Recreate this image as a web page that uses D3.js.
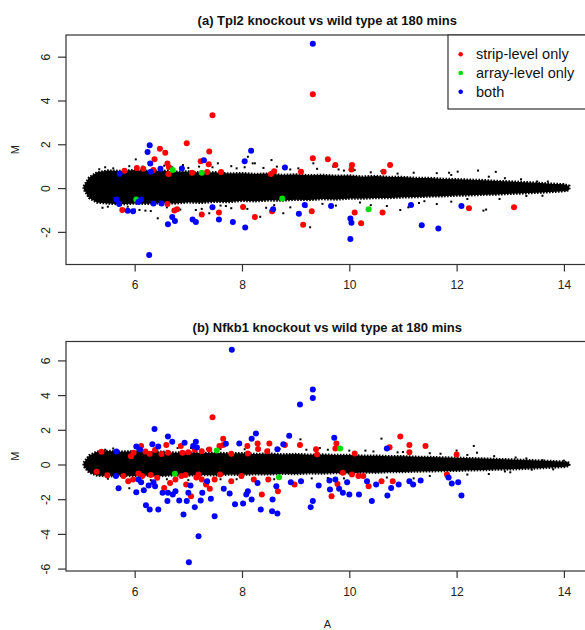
<!DOCTYPE html>
<html>
<head>
<meta charset="utf-8">
<script src="https://cdn.jsdelivr.net/npm/d3@7/dist/d3.min.js"></script>
<style>
  body { margin: 0; background: #fff; }
  svg { display: block; font-family: "Liberation Sans", Arial, sans-serif; }
</style>
</head>
<body>
<div id="chartContainer"></div>
<script>
// ---- data (A = average log intensity, M = log ratio) ----

// outline of the dense black cloud of unchanged probes, same A grid for both panels
var cloudA = [5.05, 5.15, 5.3, 5.5, 5.75, 6.0, 6.25, 6.5, 6.75, 7.0, 7.25, 7.5, 7.75, 8.0, 8.25, 8.5, 8.75, 9.0, 9.25, 9.5,
              9.75, 10.0, 10.25, 10.5, 10.75, 11.0, 11.25, 11.5, 11.75, 12.0, 12.25, 12.5, 12.75, 13.0, 13.25, 13.5, 13.75, 14.0, 14.1]
var tplCloudUp = [0.08, 0.48, 0.72, 0.8, 0.78, 0.82, 0.78, 0.8, 0.74, 0.76, 0.7, 0.72, 0.66, 0.68, 0.64, 0.66, 0.6, 0.62, 0.58, 0.6,
                  0.56, 0.57, 0.52, 0.55, 0.5, 0.5, 0.46, 0.46, 0.42, 0.4, 0.38, 0.36, 0.32, 0.3, 0.27, 0.24, 0.2, 0.17, 0.1]
var tplCloudLo = [-0.05, -0.45, -0.66, -0.7, -0.74, -0.7, -0.72, -0.68, -0.7, -0.65, -0.67, -0.62, -0.64, -0.58, -0.6, -0.56, -0.57, -0.53, -0.54, -0.5,
                  -0.52, -0.48, -0.48, -0.45, -0.45, -0.42, -0.41, -0.38, -0.37, -0.34, -0.33, -0.3, -0.29, -0.26, -0.24, -0.21, -0.18, -0.14, -0.08]
var nfkCloudUp = [0.1, 0.52, 0.74, 0.78, 0.74, 0.76, 0.7, 0.74, 0.68, 0.7, 0.66, 0.68, 0.64, 0.65, 0.6, 0.63, 0.58, 0.6, 0.56, 0.57,
                  0.54, 0.54, 0.5, 0.51, 0.47, 0.47, 0.44, 0.43, 0.4, 0.39, 0.36, 0.34, 0.31, 0.29, 0.26, 0.23, 0.2, 0.16, 0.1]
var nfkCloudLo = [-0.1, -0.46, -0.63, -0.68, -0.64, -0.67, -0.63, -0.66, -0.62, -0.63, -0.6, -0.62, -0.58, -0.59, -0.56, -0.57, -0.53, -0.55, -0.51, -0.52,
                  -0.49, -0.5, -0.46, -0.47, -0.43, -0.43, -0.4, -0.39, -0.37, -0.36, -0.33, -0.32, -0.29, -0.28, -0.25, -0.22, -0.18, -0.14, -0.08]

// loose black probes outside the cloud
var tplStray = [[6.02,1.31],[6.26,1.16],[5.34,0.86],[6.09,-1.0],[6.43,-1.38],[6.2,-1.03],[7.14,-1.0],[7.55,1.13],[8.11,1.43],[8.2,1.13],
                [5.87,-0.85],[7.7,-0.82],[7.39,-1.15],[8.24,1.13],[8.55,1.28],[9.33,1.13],[9.27,-1.79],[8.34,-1.31],[8.77,-1.15],[10.95,-1.0],
                [11.1,-0.88],[11.63,0.68],[9.7,0.98],[11.86,0.7],[12.4,0.8],[12.73,0.74],[12.5,-1.03],[11.63,-0.73],[12.02,0.75],[13.87,0.14],
                [5.6,0.9],[6.7,0.95],[7.0,0.92],[7.9,0.9],[8.9,0.85],[9.9,0.8],[10.4,0.72],[10.9,0.66],[5.5,-0.85],[6.6,-0.88],
                [7.6,-0.8],[8.6,-0.78],[9.5,-0.72],[10.2,-0.66],[11.4,-0.6],[12.2,-0.5],[13.3,-0.36],[13.5,0.3],[14.05,-0.1],[12.9,0.45],
                [5.45,0.95],[5.9,1.0],[6.15,0.98],[6.55,1.02],[6.9,1.05],[7.2,0.98],[7.45,0.95],[7.8,1.0],[8.05,0.95],[8.4,0.92],
                [8.65,0.98],[9.05,0.9],[9.4,0.88],[9.8,0.85],[10.1,0.82],[10.6,0.78],[11.2,0.7],[11.9,0.6],[12.6,0.52],[13.2,0.4],
                [5.4,-0.9],[5.75,-0.95],[6.0,-0.98],[6.3,-1.05],[6.85,-0.98],[7.25,-0.95],[7.8,-0.92],[8.1,-0.95],[8.45,-0.9],[8.9,-0.88],
                [9.2,-0.85],[9.75,-0.8],[10.4,-0.78],[10.7,-0.82],[11.3,-0.68],[11.9,-0.62],[12.8,-0.5],[13.6,-0.35],[12.55,-0.98],[13.7,0.3]]
var tplStrip = [[9.32,4.29],[7.45,3.32],[6.97,2.05],[6.47,1.8],[6.57,1.61],[7.39,1.67],[6.37,1.32],[6.61,1.12],[6.64,0.95],[7.23,1.23],
                [7.38,1.09],[6.04,0.92],[6.16,0.88],[5.81,0.79],[6.35,0.82],[6.63,0.64],[7.07,0.7],[7.35,0.73],[7.61,0.73],[8.54,0.64],
                [8.6,0.77],[9.1,0.74],[9.32,1.36],[9.6,1.32],[9.74,1.05],[10.05,1.05],[10.04,0.85],[10.76,1.05],[10.64,0.74],[6.61,-0.73],
                [5.77,-1.0],[6.74,-1.02],[6.79,-0.97],[7.25,-1.21],[7.57,-1.12],[8.02,-0.86],[8.24,-1.32],[8.56,-1.06],[9.14,-1.67],[9.3,-1.06],
                [10.1,-1.11],[10.22,-1.61],[10.62,-1.12],[12.23,-0.92],[13.07,-0.88]]
var tplArray = [[6.71,0.83],[7.25,0.7],[6.03,-0.52],[8.75,-0.48],[10.36,-0.97]]
var tplBoth = [[9.32,6.59],[6.28,1.95],[6.24,1.65],[6.29,1.12],[6.3,0.74],[5.72,0.65],[6.48,0.88],[6.88,0.89],[7.29,1.27],[8.17,1.71],
               [8.05,1.23],[8.8,0.94],[5.66,-0.52],[5.71,-0.73],[5.87,-1.03],[5.97,-1.06],[6.07,-0.64],[6.12,-0.52],[6.35,-0.7],[6.5,-0.7],
               [6.62,-1.65],[6.7,-1.32],[6.75,-1.5],[7.08,-1.44],[7.14,-1.55],[7.45,-0.88],[7.57,-1.44],[7.83,-1.55],[8.06,-1.8],[8.58,-0.97],
               [9.06,-1.17],[9.17,-0.77],[9.66,-0.82],[10.02,-1.39],[10.04,-1.58],[10.02,-2.33],[11.15,-0.77],[11.35,-1.7],[11.66,-1.85],[12.09,-0.82],
               [6.27,-3.06]]

var nfkStray = [[10.6,1.49],[9.09,1.45],[8.28,1.2],[9.45,0.95],[12.32,1.07],[12.38,0.68],[12.0,0.8],[5.9,-1.37],[7.3,-1.1],[8.9,-0.95],
                [9.6,0.85],[10.3,0.8],[10.9,0.7],[11.5,0.65],[11.2,-0.8],[11.8,-0.7],[12.6,-0.55],[13.1,0.4],[13.6,0.25],[14.05,0.1],
                [6.8,0.95],[7.6,0.9],[8.5,0.85],[9.9,-0.8],[10.7,-0.75],[12.9,-0.4],[13.4,-0.3],[5.45,0.85],[6.3,-0.9],[7.9,-0.85],
                [5.6,0.92],[6.05,0.9],[6.45,0.95],[7.05,0.95],[7.35,0.9],[8.05,0.88],[8.7,0.9],[9.2,0.85],[10.0,0.8],[10.45,0.75],
                [11.0,0.72],[11.7,0.62],[12.2,0.55],[12.7,0.48],[13.3,0.35],[5.5,-0.82],[5.95,-0.88],[6.6,-0.85],[7.0,-0.9],[7.6,-0.85],
                [8.2,-0.82],[8.6,-0.85],[9.3,-0.8],[9.6,-0.78],[10.2,-0.72],[11.5,-0.66],[12.2,-0.58],[13.0,-0.45],[13.8,-0.28],[14.0,0.22]]
var nfkStrip = [[7.45,2.73],[7.65,1.48],[10.95,1.62],[11.42,1.06],[11.12,1.12],[11.12,0.71],[10.75,1.0],[12.0,0.58],[10.1,0.63],[9.76,1.21],
                [9.74,0.92],[9.38,0.88],[9.4,0.58],[9.08,1.12],[8.8,1.12],[8.51,1.21],[8.47,0.77],[8.29,1.21],[8.1,1.06],[8.11,0.63],
                [7.65,1.12],[7.58,1.06],[7.39,0.87],[7.25,0.77],[6.86,1.06],[6.89,0.67],[6.62,0.67],[6.59,1.12],[6.38,0.83],[6.28,0.62],
                [6.12,1.06],[5.98,0.67],[5.93,0.48],[5.38,0.73],[6.2,0.75],[6.5,0.6],[7.0,0.7],[7.12,0.85],[7.8,0.62],[8.3,0.9],
                [5.29,-0.42],[5.49,-0.62],[5.79,-0.67],[5.88,-0.96],[5.97,-0.87],[6.07,-0.52],[6.14,-0.67],[6.42,-0.77],[6.55,-1.35],[6.66,-1.06],
                [6.76,-0.87],[6.87,-0.67],[6.96,-1.15],[7.05,-1.83],[7.19,-0.58],[7.25,-0.87],[7.33,-1.15],[7.4,-1.4],[7.49,-0.87],[7.59,-0.58],
                [7.8,-0.96],[7.99,-0.67],[8.22,-0.87],[8.37,-1.73],[8.49,-0.87],[8.67,-1.54],[8.98,-1.15],[9.67,-1.83],[9.78,-1.12],[9.88,-0.48],
                [10.05,-0.58],[10.17,-0.67],[10.26,-0.67],[10.36,-1.25],[10.6,-0.96],[10.81,-0.96],[11.82,-0.58],[6.3,-0.6],[6.95,-0.6],[7.15,-0.75]]
var nfkArray = [[7.53,0.81],[9.83,0.92],[6.75,-0.54],[8.69,-0.73]]
var nfkBoth = [[7.81,6.62],[9.32,4.33],[9.32,3.83],[9.08,3.46],[6.37,2.04],[6.62,1.62],[6.7,1.31],[6.33,1.17],[6.44,1.04],[6.03,1.04],
               [6.1,0.87],[5.66,0.75],[6.93,1.25],[7.14,1.31],[7.09,1.06],[7.16,0.98],[7.7,1.19],[7.95,1.21],[8.26,1.79],[8.18,1.48],
               [8.88,1.65],[8.77,1.17],[8.66,0.88],[9.72,1.54],[10.7,0.92],[11.85,-0.75],
               [5.65,-0.67],[5.7,-1.37],[6.03,-1.6],[6.07,-0.87],[6.12,-1.02],[6.17,-1.48],[6.21,-2.35],[6.28,-2.6],[6.44,-2.6],[6.26,-1.21],
               [6.35,-1.02],[6.38,-1.25],[6.52,-1.63],[6.61,-2.1],[6.62,-1.63],[6.71,-1.73],[6.76,-1.54],[6.83,-2.08],[6.91,-2.88],[6.97,-2.1],
               [7.0,-1.63],[7.04,-1.21],[7.12,-2.46],[7.19,-4.13],[7.01,-5.63],[7.23,-2.08],[7.26,-1.63],[7.35,-0.96],[7.42,-1.98],[7.49,-2.98],
               [7.66,-1.4],[7.77,-1.67],[7.87,-2.29],[8.02,-2.25],[8.08,-1.73],[8.11,-1.54],[8.18,-2.02],[8.29,-1.06],[8.35,-2.6],[8.56,-2.69],
               [8.66,-2.83],[8.57,-2.02],[8.64,-1.25],[8.91,-1.02],[9.1,-0.96],[9.28,-2.46],[9.32,-2.1],[9.43,-1.21],[9.63,-0.92],[9.64,-1.44],
               [9.74,-0.87],[9.81,-1.4],[9.88,-1.63],[9.96,-1.02],[10.0,-1.73],[10.18,-1.73],[10.33,-0.96],[10.42,-2.1],[10.5,-1.15],[10.71,-1.79],
               [10.78,-1.35],[10.92,-1.15],[11.12,-0.96],[11.19,-1.15],[11.33,-0.92],[11.91,-1.1],[12.03,-1.02],[12.09,-1.79]]

var xTicks = [6, 8, 10, 12, 14]
var tplYTicks = [-2, 0, 2, 4, 6]
var nfkYTicks = [-6, -4, -2, 0, 2, 4, 6]
var legendLabels = ['strip-level only', 'array-level only', 'both']
var legendColors = ['#ff0000', '#00dd00', '#0000ff']

var panels = [
    { title: '(a) Tpl2 knockout vs wild type at 180 mins', top: 35, bottom: 264.5, yDomain: [-3.49, 6.99], yTicks: tplYTicks,
      up: tplCloudUp, lo: tplCloudLo, stray: tplStray, strip: tplStrip, array: tplArray, both: tplBoth, legend: true, xLabel: false },
    { title: '(b) Nfkb1 knockout vs wild type at 180 mins', top: 341.5, bottom: 571, yDomain: [-6.14, 7.09], yTicks: nfkYTicks,
      up: nfkCloudUp, lo: nfkCloudLo, stray: nfkStray, strip: nfkStrip, array: nfkArray, both: nfkBoth, legend: false, xLabel: true }
]

var width = 585, height = 630
var left = 66, right = 588.6

var svg = d3.select('#chartContainer').append('svg')
    .attr('width', width)
    .attr('height', height)

var xScale = d3.scaleLinear().domain([4.72, 14.46]).range([left, right])

panels.forEach(function(p) {
    var yScale = d3.scaleLinear().domain(p.yDomain).range([p.bottom, p.top])
    var g = svg.append('g')

    // title
    g.append('text')
        .attr('x', (left + right) / 2)
        .attr('y', p.top - 10)
        .attr('text-anchor', 'middle')
        .style('font-size', '13px')
        .style('font-weight', 'bold')
        .style('fill', '#111')
        .text(p.title)

    // black cloud
    var area = d3.area()
        .x(function(d, i) { return xScale(cloudA[i]) })
        .y0(function(d, i) { return yScale(p.lo[i]) })
        .y1(function(d, i) { return yScale(p.up[i]) })
    g.append('path')
        .datum(cloudA)
        .attr('d', area)
        .style('fill', '#000')
        .style('stroke', '#000')
        .style('stroke-width', 2.5)
        .style('stroke-dasharray', '1.6,1.4')

    g.selectAll('.stray')
        .data(p.stray)
        .enter()
        .append('rect')
        .attr('x', function(d) { return xScale(d[0]) - 1 })
        .attr('y', function(d) { return yScale(d[1]) - 1 })
        .attr('width', 2)
        .attr('height', 2)
        .style('fill', '#000')

    // coloured probes
    var groups = [[p.strip, legendColors[0]], [p.array, legendColors[1]], [p.both, legendColors[2]]]
    groups.forEach(function(gr) {
        g.selectAll(null)
            .data(gr[0])
            .enter()
            .append('circle')
            .attr('cx', function(d) { return xScale(d[0]) })
            .attr('cy', function(d) { return yScale(d[1]) })
            .attr('r', 3)
            .style('fill', gr[1])
    })

    // frame
    g.append('rect')
        .attr('x', left)
        .attr('y', p.top)
        .attr('width', right - left)
        .attr('height', p.bottom - p.top)
        .style('fill', 'none')
        .style('stroke', '#333')
        .style('stroke-width', 1.2)

    // x axis
    var xAxis = g.append('g')
        .attr('transform', 'translate(0,' + p.bottom + ')')
        .call(d3.axisBottom(xScale).tickValues(xTicks).tickSize(7).tickPadding(9))
    xAxis.select('.domain').remove()
    xAxis.selectAll('line').style('stroke', '#333').style('stroke-width', 1.2)
    xAxis.selectAll('text').style('font-size', '12px').style('fill', '#222')
        .style('font-family', '"Liberation Sans", Arial, sans-serif')

    // y axis, labels parallel to the axis as in R
    var yAxis = g.append('g')
        .attr('transform', 'translate(' + left + ',0)')
        .call(d3.axisLeft(yScale).tickValues(p.yTicks).tickSize(8).tickFormat(d3.format('d')))
    yAxis.select('.domain').remove()
    yAxis.selectAll('line').style('stroke', '#333').style('stroke-width', 1.2)
    yAxis.selectAll('text')
        .attr('x', null).attr('dy', null)
        .attr('text-anchor', 'middle')
        .attr('transform', 'translate(-20,0) rotate(-90)')
        .attr('y', 4)
        .style('font-size', '12px').style('fill', '#222')
        .style('font-family', '"Liberation Sans", Arial, sans-serif')
        .text(function(d) { return d < 0 ? '-' + Math.abs(d) : d })

    g.append('text')
        .attr('transform', 'translate(19,' + (p.top + p.bottom) / 2 + ') rotate(-90)')
        .attr('text-anchor', 'middle')
        .style('font-size', '11px')
        .style('fill', '#222')
        .text('M')

    if (p.xLabel) {
        g.append('text')
            .attr('x', (left + right) / 2)
            .attr('y', 628)
            .attr('text-anchor', 'middle')
            .style('font-size', '11px')
            .style('fill', '#222')
            .text('A')
    }

    if (p.legend) {
        var lg = g.append('g')
        lg.append('rect')
            .attr('x', 448)
            .attr('y', p.top)
            .attr('width', 160)
            .attr('height', 74)
            .style('fill', '#fff')
            .style('stroke', '#333')
            .style('stroke-width', 1.2)
        legendLabels.forEach(function(lab, i) {
            lg.append('circle')
                .attr('cx', 460.7)
                .attr('cy', p.top + 19.3 + i * 18.7)
                .attr('r', 2.3)
                .style('fill', legendColors[i])
            lg.append('text')
                .attr('x', 476)
                .attr('y', p.top + 19.3 + i * 18.7 + 5)
                .style('font-size', '14.5px')
                .style('fill', '#111')
                .text(lab)
        })
    }
})
</script>
</body>
</html>
